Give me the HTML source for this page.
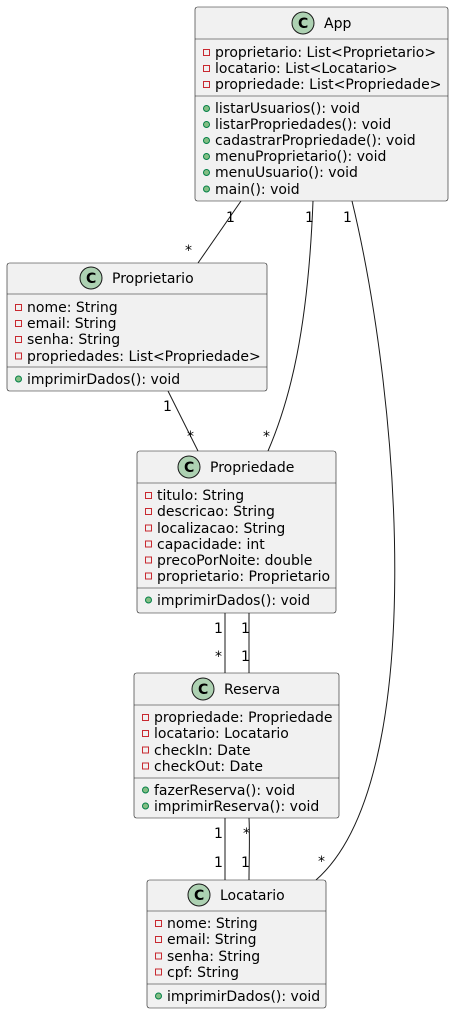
<!DOCTYPE html>
<html><head><meta charset="utf-8"><style>
html,body{margin:0;padding:0;background:#fff;}
svg{display:block;}
text{font-family:"DejaVu Sans","Liberation Sans",sans-serif;font-size:14px;fill:#000;}
.box{fill:#f1f1f1;stroke:#181818;stroke-width:0.6;}
.dv{stroke:#181818;stroke-width:0.6;}
.ln{fill:none;stroke:#181818;stroke-width:1;}
.ci{fill:#add1b2;stroke:#181818;stroke-width:1;}
.cl{font-weight:bold;font-size:14px;}
.pv{fill:none;stroke:#c82930;stroke-width:1;}
.pb{fill:#84be84;stroke:#038048;stroke-width:1;}
</style></head><body>
<svg width="454" height="1014" viewBox="0 0 454 1014">
<path class="ln" d="M241,201 L198,263"/>
<path class="ln" d="M313,201 C308,330 290,400 268,451"/>
<path class="ln" d="M352,201 C400,400 430,780 316,880"/>
<path class="ln" d="M168,391 L198,451"/>
<path class="ln" d="M225,613 L225,673"/>
<path class="ln" d="M249,613 L249,673"/>
<path class="ln" d="M225,818 L225,880"/>
<path class="ln" d="M249,818 C250,840 249,860 249,880"/>
<text x="226" y="222">1</text><text x="185" y="255">*</text>
<text x="305" y="222">1</text><text x="263" y="441">*</text>
<text x="343" y="222">1</text><text x="318" y="866">*</text>
<text x="163" y="411">1</text><text x="187" y="441">*</text>
<text x="214" y="633">1</text><text x="215" y="661">*</text>
<text x="241" y="633">1</text><text x="241" y="661">1</text>
<text x="214" y="838">1</text><text x="214" y="867">1</text>
<text x="243" y="838">*</text><text x="241" y="867">1</text>

<rect class="box" x="195" y="7" width="253" height="194" rx="2.5"/>
<line class="dv" x1="195" y1="39" x2="448" y2="39"/>
<line class="dv" x1="195" y1="96" x2="448" y2="96"/>
<circle class="ci" cx="303" cy="23" r="11"/><text class="cl" x="298" y="28">C</text>
<text x="324" y="28">App</text>
<rect class="pv" x="203.5" y="49.5" width="6" height="6"/><text x="215" y="57">proprietario: List&lt;Proprietario&gt;</text>
<rect class="pv" x="203.5" y="65.5" width="6" height="6"/><text x="215" y="73">locatario: List&lt;Locatario&gt;</text>
<rect class="pv" x="203.5" y="81.5" width="6" height="6"/><text x="215" y="89">propriedade: List&lt;Propriedade&gt;</text>
<circle class="pb" cx="206.5" cy="108.5" r="3"/><text x="215" y="113">listarUsuarios(): void</text>
<circle class="pb" cx="206.5" cy="124.5" r="3"/><text x="215" y="129">listarPropriedades(): void</text>
<circle class="pb" cx="206.5" cy="140.5" r="3"/><text x="215" y="145">cadastrarPropriedade(): void</text>
<circle class="pb" cx="206.5" cy="156.5" r="3"/><text x="215" y="161">menuProprietario(): void</text>
<circle class="pb" cx="206.5" cy="172.5" r="3"/><text x="215" y="177">menuUsuario(): void</text>
<circle class="pb" cx="206.5" cy="189" r="3"/><text x="215" y="194">main(): void</text>

<rect class="box" x="7" y="263" width="260" height="128" rx="2.5"/>
<line class="dv" x1="7" y1="294" x2="267" y2="294"/>
<line class="dv" x1="7" y1="367" x2="267" y2="367"/>
<circle class="ci" cx="91" cy="278" r="11"/><text class="cl" x="86" y="283">C</text>
<text x="112" y="283">Proprietario</text>
<rect class="pv" x="15.5" y="304.5" width="6" height="6"/><text x="27" y="312">nome: String</text>
<rect class="pv" x="15.5" y="320.5" width="6" height="6"/><text x="27" y="328">email: String</text>
<rect class="pv" x="15.5" y="336.5" width="6" height="6"/><text x="27" y="344">senha: String</text>
<rect class="pv" x="15.5" y="353" width="6" height="6"/><text x="27" y="361">propriedades: List&lt;Propriedade&gt;</text>
<circle class="pb" cx="18.5" cy="379" r="3"/><text x="27" y="384">imprimirDados(): void</text>

<rect class="box" x="137" y="451" width="199" height="162" rx="2.5"/>
<line class="dv" x1="137" y1="483" x2="336" y2="483"/>
<line class="dv" x1="137" y1="588" x2="336" y2="588"/>
<circle class="ci" cx="189" cy="467" r="11"/><text class="cl" x="184" y="472">C</text>
<text x="210" y="472">Propriedade</text>
<rect class="pv" x="145.5" y="492.5" width="6" height="6"/><text x="157" y="500">titulo: String</text>
<rect class="pv" x="145.5" y="508.5" width="6" height="6"/><text x="157" y="516">descricao: String</text>
<rect class="pv" x="145.5" y="525" width="6" height="6"/><text x="157" y="533">localizacao: String</text>
<rect class="pv" x="145.5" y="541" width="6" height="6"/><text x="157" y="549">capacidade: int</text>
<rect class="pv" x="145.5" y="557" width="6" height="6"/><text x="157" y="565">precoPorNoite: double</text>
<rect class="pv" x="145.5" y="573" width="6" height="6"/><text x="157" y="581">proprietario: Proprietario</text>
<circle class="pb" cx="148.5" cy="600" r="3"/><text x="157" y="605">imprimirDados(): void</text>

<rect class="box" x="134" y="673" width="205" height="145" rx="2.5"/>
<line class="dv" x1="134" y1="705" x2="339" y2="705"/>
<line class="dv" x1="134" y1="778" x2="339" y2="778"/>
<circle class="ci" cx="203" cy="689" r="11"/><text class="cl" x="198" y="694">C</text>
<text x="224" y="694">Reserva</text>
<rect class="pv" x="142.5" y="714.5" width="6" height="6"/><text x="154" y="722">propriedade: Propriedade</text>
<rect class="pv" x="142.5" y="730.5" width="6" height="6"/><text x="154" y="738">locatario: Locatario</text>
<rect class="pv" x="142.5" y="747" width="6" height="6"/><text x="154" y="755">checkIn: Date</text>
<rect class="pv" x="142.5" y="763" width="6" height="6"/><text x="154" y="771">checkOut: Date</text>
<circle class="pb" cx="145.5" cy="790" r="3"/><text x="154" y="795">fazerReserva(): void</text>
<circle class="pb" cx="145.5" cy="806" r="3"/><text x="154" y="811">imprimirReserva(): void</text>

<rect class="box" x="147" y="880" width="179" height="128" rx="2.5"/>
<line class="dv" x1="147" y1="911" x2="326" y2="911"/>
<line class="dv" x1="147" y1="984" x2="326" y2="984"/>
<circle class="ci" cx="199" cy="895" r="11"/><text class="cl" x="194" y="900">C</text>
<text x="220" y="900">Locatario</text>
<rect class="pv" x="155.5" y="920.5" width="6" height="6"/><text x="167" y="928">nome: String</text>
<rect class="pv" x="155.5" y="936.5" width="6" height="6"/><text x="167" y="944">email: String</text>
<rect class="pv" x="155.5" y="953" width="6" height="6"/><text x="167" y="961">senha: String</text>
<rect class="pv" x="155.5" y="969" width="6" height="6"/><text x="167" y="977">cpf: String</text>
<circle class="pb" cx="158.5" cy="996" r="3"/><text x="167" y="1001">imprimirDados(): void</text>
</svg>
</body></html>
